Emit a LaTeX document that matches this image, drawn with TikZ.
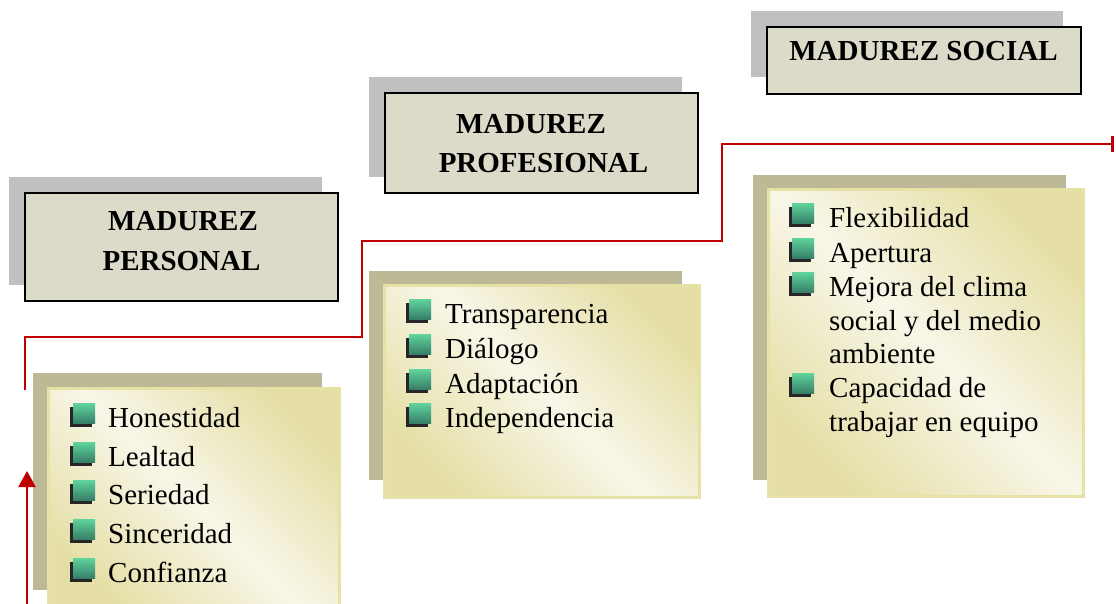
\documentclass[tikz,border=0pt]{standalone}
\usepackage{fontspec}
\setmainfont{Liberation Serif}
\usetikzlibrary{arrows.meta,shadows}
\definecolor{tfill}{RGB}{220,219,201}
\definecolor{tshad}{RGB}{192,192,192}
\definecolor{cshad}{RGB}{189,185,150}
\definecolor{ydark}{RGB}{229,223,166}
\definecolor{ylight}{RGB}{248,246,232}
\definecolor{cborder}{RGB}{230,226,166}
\definecolor{lred}{RGB}{192,0,0}
\definecolor{gtop}{RGB}{95,210,155}
\definecolor{gbot}{RGB}{55,125,105}
\pgfdeclarehorizontalshading{cream}{100bp}{color(0bp)=(ydark); color(25bp)=(ydark); color(50bp)=(ylight); color(75bp)=(ydark); color(100bp)=(ydark)}
\begin{document}
\begin{tikzpicture}[x=1pt,y=-1pt,
  box/.style={rectangle, inner sep=0pt, outer sep=0pt},
  tshadow/.style={box, fill=tshad},
  tbox/.style={box, fill=tfill, draw=black, line width=2pt},
  cshadow/.style={box, fill=cshad},
  cbox/.style={box, shading=cream, shading angle=45, draw=cborder, line width=3pt},
  ttext/.style={font=\fontsize{29}{40}\selectfont\bfseries, inner sep=0pt, anchor=base},
  itext/.style={font=\fontsize{29}{34}\selectfont, inner sep=0pt, anchor=base west},
  bul/.style={box, minimum width=22pt, minimum height=20pt, top color=gtop, bottom color=gbot,
    drop shadow={shadow xshift=-3pt, shadow yshift=-3pt, fill=black!85, opacity=1}},
  link/.style={draw=lred, line width=2.5pt}
]
\clip (0,0) rectangle (1116,603);

% title boxes
\node[tshadow, minimum width=313pt, minimum height=108pt] (tps) at (165.5,231) {};
\node[tbox, minimum width=313pt, minimum height=108pt] (tp) at (181.5,247) {};
\node[ttext] (tp1) at (183,230) {MADUREZ};
\node[ttext] (tp2) at (181.5,270) {PERSONAL};

\node[tshadow, minimum width=313pt, minimum height=100pt] (tfs) at (525.5,127) {};
\node[tbox, minimum width=313pt, minimum height=100pt] (tf) at (541.5,143) {};
\node[ttext] (tf1) at (531,133) {MADUREZ};
\node[ttext] (tf2) at (543.5,172) {PROFESIONAL};

\node[tshadow, minimum width=312pt, minimum height=66pt] (tss) at (907,44) {};
\node[tbox, minimum width=314pt, minimum height=67pt] (ts) at (924,60.5) {};
\node[ttext] (ts1) at (923.5,60) {MADUREZ SOCIAL};

% content boxes
\node[cshadow, minimum width=289pt, minimum height=217pt] (cps) at (177.5,481.5) {};
\node[cbox, minimum width=291pt, minimum height=224pt] (cp) at (193.5,500) {};

\node[cshadow, minimum width=313pt, minimum height=209pt] (cfs) at (525.5,375.5) {};
\node[cbox, minimum width=315pt, minimum height=212pt] (cf) at (541.5,391) {};

\node[cshadow, minimum width=313pt, minimum height=305pt] (css) at (909.5,327.5) {};
\node[cbox, minimum width=315pt, minimum height=307pt] (cs) at (925.5,342.5) {};

% personal items
\foreach \t/\y [count=\i] in {Honestidad/427, Lealtad/466, Seriedad/504, Sinceridad/543, Confianza/582}{
  \node[bul] (pb\i) at (84,\y-13.5) {};
  \node[itext] (pi\i) at (108,\y) {\t};
}
% profesional items
\foreach \t/\y [count=\i] in {Transparencia/323, Diálogo/358, Adaptación/393, Independencia/427}{
  \node[bul] (fb\i) at (420,\y-13.5) {};
  \node[itext] (fi\i) at (445,\y) {\t};
}
% social items
\foreach \y [count=\i] in {227,262,296,397}{
  \node[bul] (sb\i) at (803,\y-13.5) {};
}
\node[itext] (si1) at (829,227) {Flexibilidad};
\node[itext] (si2) at (829,262) {Apertura};
\node[itext] (si3) at (829,296) {Mejora del clima};
\node[itext] (si4) at (829,330) {social y del medio};
\node[itext] (si5) at (829,363) {ambiente};
\node[itext] (si6) at (829,397) {Capacidad de};
\node[itext] (si7) at (829,431) {trabajar en equipo};

% red connectors
\coordinate (r0) at (25,390);
\coordinate (k1) at (362,337);
\coordinate (k2) at (722,241);
\coordinate (r1) at (1114,144);
\draw[link, -{Bar[width=16pt,line width=3.5pt]}] (r0) |- (k1) |- (k2) |- (r1);

\coordinate (a0) at (27,610);
\coordinate (a1) at (27,471);
\draw[link, -{Triangle[width=17pt,length=16pt]}] (a0) -- (a1);
\end{tikzpicture}
\end{document}
